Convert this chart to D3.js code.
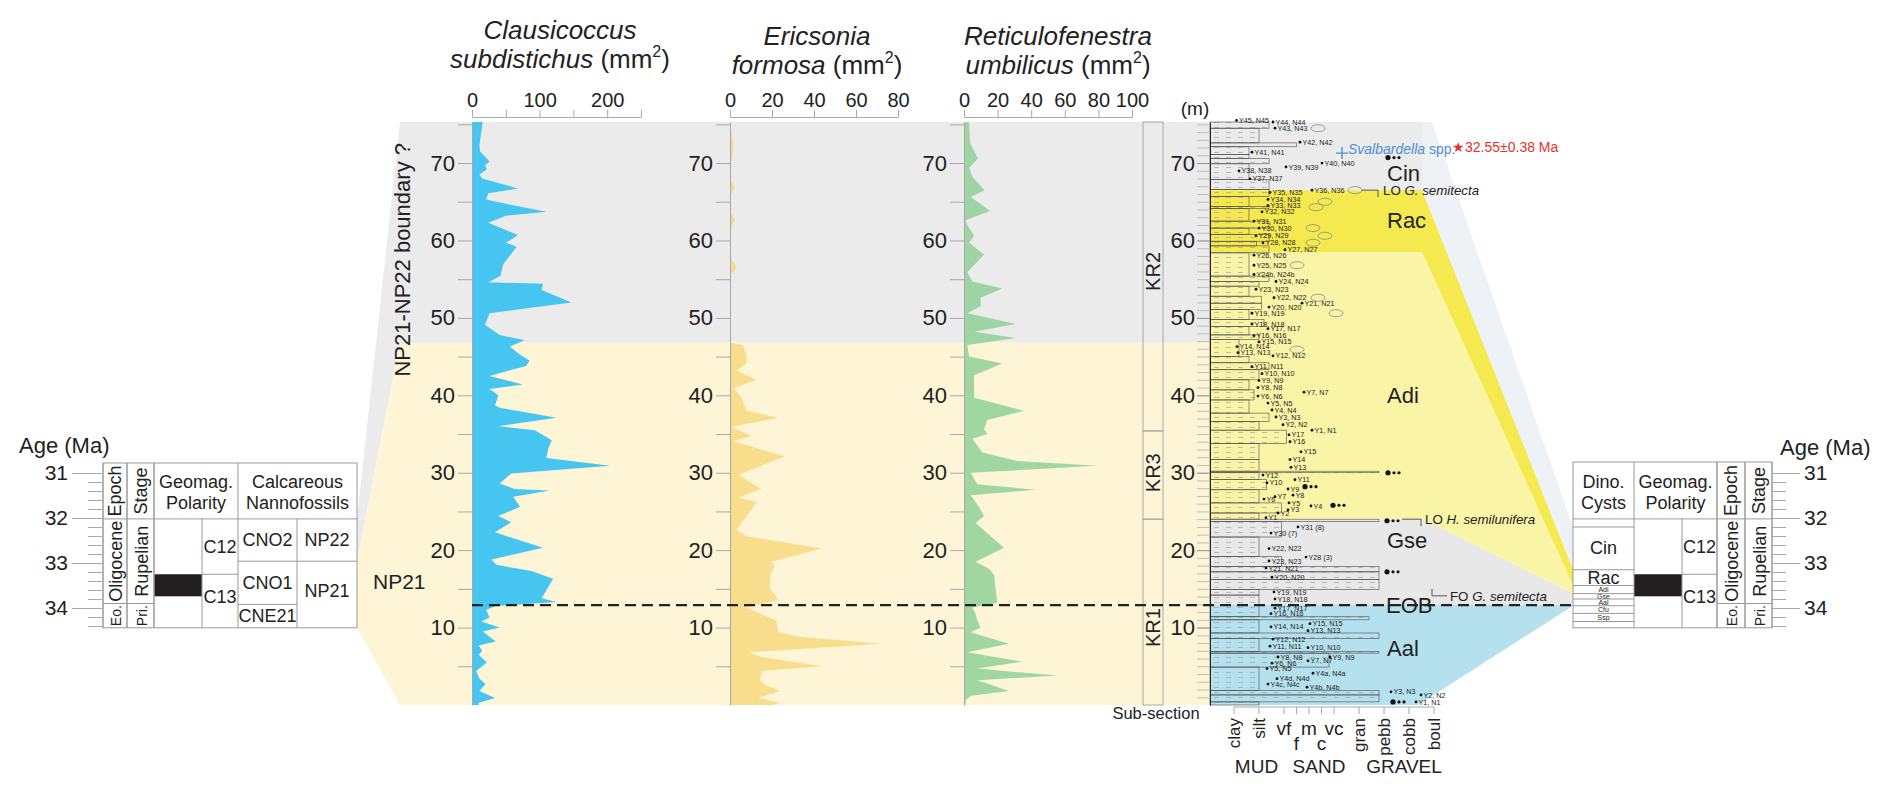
<!DOCTYPE html>
<html>
<head>
<meta charset="utf-8">
<script src="https://cdn.jsdelivr.net/npm/d3@7/dist/d3.min.js"></script>
<style>
  body { margin: 0; background: #fff; }
  svg { display: block; }
</style>
</head>
<body>
<div id="chart"></div>
<script>
// ---- data (depth m, area mm2) ----
const clausicoccus = [[75.3,16],[74.8,15],[72.3,11],[71.5,12],[70.2,26],[69.7,19],[69.2,22],[68.5,11],[68,15],[66.7,68],[66.1,24],[65.3,21],[64.7,51],[63.7,110],[63.2,50],[62.3,24],[60.7,68],[59.7,50],[59.2,66],[56.9,46],[55.4,42],[54.6,24],[54.4,105],[53.6,103],[52,147],[50.6,26],[49.1,19],[47.8,41],[47.1,78],[46.3,56],[45.3,70],[44.5,85],[43.8,80],[42.5,26],[41.4,75],[40.8,26],[40,39],[38.7,34],[38.4,41],[37.1,125],[36,39],[35.5,93],[34.2,118],[33.2,113],[31.9,110],[30.9,204],[29.9,58],[28.6,41],[27.9,63],[27.7,115],[26.9,61],[25.6,71],[24.4,39],[23.6,58],[22.3,34],[20.3,105],[18.8,29],[18.1,36],[17.3,88],[16.3,120],[13.8,103],[13.3,125],[12.8,36],[12.3,21],[11.3,26],[10.8,14],[10,41],[9.5,16],[8.2,35],[7.7,10],[7,15],[6.5,10],[5.5,22],[4.4,6],[3.4,11],[2.7,20],[1.8,11],[0.9,34],[0.3,10],[0,10]];

const ericsonia = [[75.3,0],[74.6,0],[73.5,1.2],[72.1,1.6],[70.5,1],[69.7,0],[67.9,0],[66.8,2.4],[65.8,0],[63.8,0],[62.6,2.4],[61.4,0],[57.9,0],[56.5,3.2],[55.4,0],[46.8,0],[46.5,6.3],[45,7.9],[44.1,7.9],[43.2,3.2],[42,12.7],[40.9,1.6],[39.7,5.6],[38,7.9],[37.1,23],[35.9,0.8],[34.7,10.3],[34.1,1.6],[32.1,26],[29.7,4],[27.9,15],[26.8,4],[26.2,12.7],[22.6,3.2],[21.8,7.9],[20.2,43.7],[18.5,19.8],[17.9,21.4],[16.8,19],[15.1,19],[13.6,23],[12.6,7.9],[12,12.7],[10.9,22],[9.4,23],[8.8,33],[7.9,72],[6.8,8.7],[6.2,15],[5,44],[4.4,15],[3.2,14.3],[2.6,16.7],[1.8,23.8],[0.9,13.5],[0.3,23.8],[0,20]];

const reticulofenestra = [[75.3,3],[72.6,3.6],[70.6,8.3],[69.4,3],[68.2,5],[66.5,12.3],[65.6,4],[63.8,15.5],[62.6,1],[62,2],[60.6,6],[59.7,3],[58.2,11.9],[55.9,2],[54.7,5],[53.8,22.8],[52.6,9.9],[51.5,9.9],[50.6,2],[49.2,30.8],[48.2,6],[47.4,30.8],[46.5,2],[45,3],[44.1,22.8],[42.6,6],[39.7,6],[38,35.7],[36.8,13.9],[35.6,11.9],[35,13.9],[34.4,5],[32.6,10.9],[31.5,31.7],[30.9,79.4],[30,4],[28.5,7.9],[27.8,42.7],[27.1,4],[25.6,8.9],[24.4,11.9],[23.5,6.9],[20.3,23.8],[18.5,6.9],[17.6,14.9],[16.8,17.9],[13.2,19.8],[12.6,5],[11.8,6.9],[10.9,7.9],[10,9.9],[9.4,4],[7.9,26.8],[6.8,2],[5.6,34.7],[4.7,7.9],[3.8,55.6],[3.2,7.9],[1.8,26.8],[1.2,4],[0.6,1],[0,1]];

// nannofossil zones: name, depth top, depth base, age top, age base
const npZones = [['NP22', 75.3, 46.8, 32.02, 32.96], ['NP21', 46.8, 0, 32.96, 34.44]];
// dinocyst zones: name, depth top, depth base, age top, age base, label depth
const dinoZones = [
  ['Cin', 75.3, 66.5, 32.2, 33.15, 68.7],
  ['Rac', 66.5, 58.5, 33.15, 33.5, 62.7],
  ['Adi', 58.5, 24.0, 33.5, 33.68, 40.0],
  ['Gse', 24.0, 12.9, 33.68, 33.8, 21.3],
  ['Aal', 12.9, 0, 33.8, 33.95, 7.4]
];
const eobDepth = 12.9;
const subSections = [['KR2', 75.3, 35.4, 56], ['KR3', 35.4, 24.0, 30], ['KR1', 24.0, 0, 10]];

// grain-size classes on the log scale
const grainClasses = [['clay',0],['silt',1],['vf',2],['f',2.5],['m',3],['c',3.5],['vc',4],['gran',5],['pebb',6],['cobb',7],['boul',8]];
const grainGroups = [['MUD',0.9],['SAND',3.4],['GRAVEL',6.8]];

// beds: top, base, grain
const beds = [[75.3,74.5,1.4],[74.5,72.6,1.0],[72.6,72.1,2.5],[72.1,71.1,0.6],[71.1,70.6,0.6],[70.6,69.9,1.4],[69.9,67.9,0.6],[67.9,66.6,1.4],
  [66.6,65.7,1.4],[65.7,64.4,0.6],[64.4,64.1,1.4],[64.1,62.5,0.6],[62.5,61.6,1.4],[61.6,60.8,0.6],[60.8,59.9,1.4],[59.9,59.3,0.9],[59.3,58.4,1.4],
  [58.4,55.4,0.6],[55.4,54.7,1.4],[54.7,54.1,1.0],[54.1,52.8,0.6],[52.8,51.9,1.1],[51.9,51.1,1.1],[51.1,49.8,0.6],[49.8,48.9,1.2],[48.9,47.8,0.6],[47.8,47.2,1.0],[47.2,45.0,0.2],[45.0,44.2,0.6],[44.2,43.3,1.4],[43.3,42.0,1.0],[42.0,40.7,0.6],
  [40.7,39.4,0.8],[39.4,37.7,0.6],[37.7,36.6,1.4],[36.6,35.5,1.0],[35.5,33.8,2.1],[33.8,31.7,1.0],[31.7,30.2,1.0],[30.2,30.0,5.8],[30.0,29.1,1.0],[29.1,27.8,1.3],[27.8,26.1,1.0],[26.1,24.8,1.9],[24.8,24.0,1.0],
  [24.0,23.7,5.8],[23.7,21.7,1.9],[21.7,19.2,1.0],[19.2,17.9,1.9],[17.9,17.2,5.8],[17.2,16.2,5.8],[16.2,14.9,5.8],[14.9,14.2,1.0],
  [14.2,11.4,1.0],[11.4,11.0,5.4],[11.0,9.3,1.0],[9.3,8.6,5.8],[8.6,6.9,1.0],[6.9,6.7,5.8],[6.7,4.9,3.8],[4.9,1.9,1.0],[1.9,1.3,5.8],[1.3,0.4,5.8],[0.4,0,1.0]];

// samples: label, depth, grain of sampled bed
const samples = [
  ['Y45, N45',75.5,0.1],['Y44, N44',75.3,1.56],['Y43, N43',74.5,1.64],['Y42, N42',72.7,2.64],['Y41, N41',71.4,0.72],['Y40, N40',70.0,3.52],
  ['Y39, N39',69.5,2.08],['Y38, N38',69.0,0.2],['Y37, N37',67.96,0.64],['Y36, N36',66.5,3.12],['Y35, N35',66.2,1.44],['Y34, N34',65.3,1.36],
  ['Y33, N33',64.5,1.36],['Y32, N32',63.7,1.12],['Y31, N31',62.5,0.8],['Y30, N30',61.6,1.0],['Y29, N29',60.6,0.88],['Y28, N28',59.7,1.16],
  ['Y27, N27',58.8,2.04],['Y26, N26',58.1,0.8],['Y25, N25',56.8,0.8],['Y24b, N24b',55.6,0.8],['Y24, N24',54.7,1.68],['Y23, N23',53.7,0.88],
  ['Y22, N22',52.6,1.6],['Y21, N21',51.9,2.72],['Y20, N20',51.4,1.4],['Y19, N19',50.6,0.72],['Y18, N18',49.2,0.72],['Y17, N17',48.6,1.36],
  ['Y16, N16',47.7,0.8],['Y15, N15',46.9,1.0],['Y14, N14',46.3,0.12],['Y13, N13',45.5,0.16],['Y12, N12',45.1,1.56],['Y11, N11',43.7,0.72],
  ['Y10, N10',42.8,1.12],['Y9, N9',41.9,1.0],['Y8, N8',41.0,0.96],['Y7, N7',40.4,2.8],['Y6, N6',39.9,0.96],['Y5, N5',39.0,1.36],
  ['Y4, N4',38.1,1.52],['Y3, N3',37.2,1.68],['Y2, N2',36.2,1.96],['Y1, N1',35.5,3.12],
  ['Y17',34.9,2.2],['Y16',34.0,2.24],['Y15',32.7,2.68],['Y14',31.7,2.24],['Y13',30.7,2.28],['Y12',29.7,1.16],['Y11',29.1,2.44],['Y10',28.7,1.32],
  ['Y9',27.9,2.16],['Y8',27.1,2.36],['Y7',26.9,1.64],['Y6',26.6,1.2],['Y5',26.1,2.2],['Y4',25.7,3.08],['Y3',25.2,2.16],['Y2',24.8,1.76],['Y1',24.2,1.28],
  ['Y31 (8)',23.0,2.56],['Y30 (7)',22.2,1.48],['Y22, N22',20.2,1.4],['Y28 (3)',19.1,2.88],['Y23, N23',18.6,1.4],['Y21, N21',17.7,1.28],['Y20, N20',16.5,1.52],
  ['Y19, N19',14.6,1.6],['Y18, N18',13.7,1.64],['Y17, N17',12.5,1.64],['Y16, N16',11.8,1.48],['Y15, N15',10.5,3.04],['Y14, N14',10.1,1.48],
  ['Y13, N13',9.6,2.96],['Y12, N12',8.5,1.56],['Y11, N11',7.6,1.44],['Y10, N10',7.4,2.96],['Y9, N9',6.2,3.84],['Y8, N8',6.2,1.76],
  ['Y7, N7',5.7,2.96],['Y6, N6',5.4,1.52],['Y5, N5',4.7,1.32],['Y4a, N4a',4.1,3.16],['Y4d, N4d',3.4,1.72],['Y4c, N4c',2.7,1.36],
  ['Y4b, N4b',2.3,2.92],['Y3, N3',1.7,6.28],['Y2, N2',1.3,7.48],['Y1, N1',0.4,7.28]
];
// nodules (depth, grain) and clast horizons (depth, grain)
const nodules = [[74.5,3.36],[66.5,4.84],[64.3,3.28],[65.0,3.64],[61.6,3.16],[60.6,3.64],[59.7,3.16],[56.8,2.52],[52.6,3.36],[50.6,4.08],[45.9,2.52]];
const clasts = [[70.7,6.16],[30.0,6.16],[28.2,2.84],[25.8,3.96],[23.8,6.12],[17.2,6.12],[0.4,6.36]];
// bioevents: prefix, taxon, depth
const events = [['LO ', 'G. semitecta', 66.5], ['LO ', 'H. semilunifera', 24.0], ['FO ', 'G. semitecta', 14.1]];
const svalbardellaDepth = 71.8;
const datedAge = '32.55±0.38 Ma';

// time scale tables (ages in Ma)
const ageTicks = [31, 32, 33, 34];
const epochs = [['Oligocene', 32.02, 33.9], ['Eo.', 33.9, 34.44]];
const stages = [['Rupelian', 32.02, 33.9], ['Pri.', 33.9, 34.44]];
const chrons = [['C12', 32.02, 33.25], ['C13', 33.25, 34.44]];
const normalPolarity = [[33.25, 33.74]];
const cnoZones = [['CNO2', 32.02, 32.96], ['CNO1', 32.96, 33.92], ['CNE21', 33.92, 34.44]];
const npTable = [['NP22', 32.02, 32.96], ['NP21', 32.96, 34.44]];
const dinoTable = [['', 32.02, 32.2], ['Cin', 32.2, 33.15], ['Rac', 33.15, 33.5], ['Adi', 33.5, 33.68], ['Gse', 33.68, 33.8],
  ['Aal', 33.8, 33.95], ['Cfu', 33.95, 34.12], ['Ssp', 34.12, 34.3], ['', 34.3, 34.38]];

// ---- layout ----
const W = 1892, H = 792;
const FONT = "'Liberation Sans', Arial, Helvetica, sans-serif";
const INK = '#222';
const AX = '#a8a8a8';
const zoneColor = { NP22: '#ebebeb', NP21: '#fdf5d6', Cin: '#ebebeb', Rac: '#f4e94f', Adi: '#faf4a7', Gse: '#e8e8e8', Aal: '#b4e1ed' };

const y = d3.scaleLinear().domain([0, 75.3]).range([705, 122]);
const age = d3.scaleLinear().domain([31, 34]).range([473, 608]);
const grain = d3.scaleLinear().domain([0, 8]).range([1234, 1434]);
const colLeft = 1210;
const tableL = { x0: 103, ep: 127, st: 154, pm: 202, gm: 238, cn: 297, x1: 357, top: 463, bot: age(34.44) };
const tableR = { x0: 1573, gm: 1634, pm: 1682, ep: 1717, st: 1745, x1: 1772, top: 462, bot: age(34.44) };
const headBot = age(32.02);

const svg = d3.select('#chart').append('svg')
  .attr('width', W).attr('height', H)
  .attr('font-family', FONT).attr('fill', INK);

const defs = svg.append('defs');
const mud = defs.append('pattern').attr('id', 'mud')
  .attr('patternUnits', 'userSpaceOnUse').attr('width', 12).attr('height', 5);
mud.append('line').attr('x1', 2).attr('x2', 7).attr('y1', 2.5).attr('y2', 2.5)
  .attr('stroke', '#999').attr('stroke-width', 0.6);

// left wedges linking nannofossil zones to the time scale
const gBack = svg.append('g');
npZones.forEach(([name, dTop, dBase, aTop, aBase]) => {
  gBack.append('polygon')
    .attr('points', [[tableL.x1, age(aTop)], [400, y(dTop)], [400, y(dBase)], [tableL.x1, age(aBase)]].join(' '))
    .attr('fill', zoneColor[name]);
  gBack.append('rect').attr('x', 400).attr('width', colLeft - 400)
    .attr('y', y(dTop)).attr('height', y(dBase) - y(dTop))
    .attr('fill', zoneColor[name]);
});

// right wedges linking dinocyst zones to the time scale
const cornerTop = { Cin: 1432, Rac: 1422, Adi: 1422, Gse: 1423, Aal: 1573 };
const cornerBase = { Cin: 1422, Rac: 1422, Adi: 1423, Gse: 1573, Aal: 1418 };
dinoZones.forEach(([name, dTop, dBase, aTop, aBase]) => {
  const pts = [[colLeft, y(dTop)], [cornerTop[name], y(dTop)], [tableR.x0, age(aTop)],
    [tableR.x0, age(aBase)], [cornerBase[name], y(dBase)], [colLeft, y(dBase)]];
  gBack.append('polygon').attr('points', pts.join(' '))
    .attr('fill', name === 'Cin' ? '#eef1f5' : zoneColor[name]);
  if (name === 'Cin') {
    gBack.append('rect').attr('x', colLeft).attr('width', 1422 - colLeft)
      .attr('y', y(dTop)).attr('height', y(dBase) - y(dTop)).attr('fill', zoneColor.Cin);
  }
});

gBack.append('text')
  .attr('transform', `translate(410,${y(57.5)}) rotate(-90)`)
  .attr('text-anchor', 'middle').attr('font-size', 22)
  .text('NP21-NP22 boundary ?');
gBack.append('text').attr('x', 373).attr('y', 589).attr('font-size', 21).text('NP21');

// ---- abundance panels ----
const panels = [
  { data: clausicoccus, x: d3.scaleLinear().domain([0, 250]).range([472, 641]), ticks: [0, 50, 100, 150, 200, 250],
    lab: d => d % 100 === 0, color: '#45c5ef', op: 1, t: ['Clausicoccus', 'subdistichus'], tx: 560, ty: 39 },
  { data: ericsonia, x: d3.scaleLinear().domain([0, 80]).range([730, 898]), ticks: [0, 20, 40, 60, 80],
    lab: () => true, color: '#f6d77a', op: 0.8, t: ['Ericsonia', 'formosa'], tx: 817, ty: 45 },
  { data: reticulofenestra, x: d3.scaleLinear().domain([0, 100]).range([964, 1132]), ticks: [0, 20, 40, 60, 80, 100],
    lab: () => true, color: '#8fd096', op: 0.85, t: ['Reticulofenestra', 'umbilicus'], tx: 1058, ty: 45 }
];

function styleAxis(g, size) {
  g.attr('font-family', FONT).attr('font-size', size);
  g.selectAll('path.domain').attr('stroke', AX);
  g.selectAll('.tick line').attr('stroke', AX);
  g.selectAll('.tick text').attr('fill', INK);
}

panels.forEach(p => {
  const area = d3.area().y(d => y(d[0])).x0(p.x(0)).x1(d => p.x(d[1]));
  svg.append('path').datum(p.data).attr('d', area)
    .attr('fill', p.color).attr('fill-opacity', p.op);

  const top = svg.append('g').attr('transform', 'translate(0,117)')
    .call(d3.axisTop(p.x).tickValues(p.ticks).tickSize(7).tickSizeOuter(0).tickPadding(3)
      .tickFormat(d => p.lab(d) ? d : ''));
  styleAxis(top, 20);

  const left = svg.append('g').attr('transform', `translate(${p.x(0)},0)`)
    .call(d3.axisLeft(y).tickValues(d3.range(5, 76, 5)).tickSize(14).tickSizeOuter(0).tickPadding(3)
      .tickFormat(d => d % 10 === 0 ? d : ''));
  styleAxis(left, 22);

  svg.append('text').attr('x', p.tx).attr('y', p.ty).attr('text-anchor', 'middle')
    .attr('font-size', 26).attr('font-style', 'italic').text(p.t[0]);
  const t2 = svg.append('text').attr('x', p.tx).attr('y', p.ty + 29).attr('text-anchor', 'middle').attr('font-size', 26);
  t2.append('tspan').attr('font-style', 'italic').text(p.t[1] + ' ');
  t2.append('tspan').text('(mm');
  t2.append('tspan').attr('font-size', 16).attr('dy', -11).text('2');
  t2.append('tspan').attr('dy', 11).text(')');
});

// ---- sub-section column ----
const gSub = svg.append('g');
subSections.forEach(([name, top, base, at]) => {
  gSub.append('rect').attr('x', 1143).attr('width', 20)
    .attr('y', y(top)).attr('height', y(base) - y(top))
    .attr('fill', 'none').attr('stroke', AX);
  gSub.append('text').attr('transform', `translate(1160,${y(at)}) rotate(-90)`)
    .attr('text-anchor', 'middle').attr('font-size', 20).text(name);
});
gSub.append('text').attr('x', 1156).attr('y', 719).attr('text-anchor', 'middle').attr('font-size', 16.5).text('Sub-section');

// ---- lithological log ----
const gLog = svg.append('g');
gLog.selectAll('rect.bed').data(beds).join('rect').attr('class', 'bed')
  .attr('x', colLeft).attr('y', d => y(d[0]))
  .attr('width', d => grain(d[2]) - colLeft).attr('height', d => y(d[1]) - y(d[0]))
  .attr('fill', 'url(#mud)').attr('stroke', '#4a4a4a').attr('stroke-width', 0.6);

const minor = gLog.append('g').attr('transform', `translate(${colLeft},0)`)
  .call(d3.axisLeft(y).tickValues(d3.range(1, 76, 1)).tickSize(13).tickSizeOuter(0).tickFormat(''));
minor.selectAll('.tick line').attr('stroke', '#bdbdbd');
minor.select('path.domain').remove();
const major = gLog.append('g').attr('transform', `translate(${colLeft},0)`)
  .call(d3.axisLeft(y).tickValues(d3.range(10, 71, 10)).tickSize(13).tickSizeOuter(0).tickPadding(2));
styleAxis(major, 22);
major.selectAll('.tick line').attr('stroke', '#999');
major.select('path.domain').attr('stroke', '#222');
gLog.append('text').attr('x', 1195).attr('y', 115).attr('text-anchor', 'middle').attr('font-size', 19).text('(m)');

// grain-size axis
const gx = gLog.append('g').attr('transform', 'translate(0,707)');
gx.append('line').attr('x1', grain(0)).attr('x2', grain(8)).attr('stroke', AX);
grainClasses.forEach(([lab, v]) => {
  gx.append('line').attr('x1', grain(v)).attr('x2', grain(v)).attr('y1', 0).attr('y2', 7).attr('stroke', AX);
  if (v >= 2 && v <= 4) {
    gx.append('text').attr('x', grain(v)).attr('y', v % 1 === 0 ? 28 : 43)
      .attr('text-anchor', 'middle').attr('font-size', 19).text(lab);
  } else {
    gx.append('text').attr('transform', `translate(${grain(v) + 6},11) rotate(-90)`)
      .attr('text-anchor', 'end').attr('font-size', 17).text(lab);
  }
});
grainGroups.forEach(([lab, v]) => {
  gx.append('text').attr('x', grain(v)).attr('y', 66).attr('text-anchor', 'middle').attr('font-size', 19).text(lab);
});

// samples, nodules, clasts
const gS = svg.append('g');
gS.selectAll('circle.s').data(samples).join('circle').attr('class', 's')
  .attr('cx', d => grain(d[2])).attr('cy', d => y(d[1])).attr('r', 1.4).attr('fill', '#111');
gS.selectAll('text.s').data(samples).join('text').attr('class', 's')
  .attr('x', d => grain(d[2]) + 2.5).attr('y', d => y(d[1]) + 2.6)
  .attr('font-size', 7.2).attr('fill', '#222').text(d => d[0]);
gS.selectAll('ellipse').data(nodules).join('ellipse')
  .attr('cx', d => grain(d[1])).attr('cy', d => y(d[0])).attr('rx', 7).attr('ry', 3.5)
  .attr('fill', 'none').attr('stroke', '#8a8a8a').attr('stroke-width', 0.8);
clasts.forEach(([d, v]) => {
  [[0, 2.6], [6, 1.6], [11, 1.6]].forEach(([dx, r]) => {
    gS.append('circle').attr('cx', grain(v) + dx).attr('cy', y(d)).attr('r', r).attr('fill', '#111');
  });
});

// bioevents
const evX = [[1362, 1378, 1383], [1402, 1421, 1425], [1432, 1447, 1450]];
events.forEach(([pre, taxon, d], i) => {
  const [x0, x1, xt] = evX[i], yy = y(d);
  const path = pre.startsWith('LO') ? `M${x0},${yy}H${x1}V${yy + 7}` : `M${x0},${yy - 7}V${yy}H${x1}`;
  gS.append('path').attr('d', path).attr('fill', 'none').attr('stroke', '#555').attr('stroke-width', 1);
  const t = gS.append('text').attr('x', xt).attr('y', yy + 5).attr('font-size', 13.3);
  t.append('tspan').text(pre);
  t.append('tspan').attr('font-style', 'italic').text(taxon);
});
const ySv = y(svalbardellaDepth);
gS.append('path').attr('d', `M1336,${ySv + 4}H1348M1342,${ySv - 2}V${ySv + 10}`).attr('stroke', '#4d8fd6').attr('stroke-width', 1.4);
const sv = gS.append('text').attr('x', 1348).attr('y', ySv + 5).attr('font-size', 14).attr('fill', '#4d8fd6');
sv.append('tspan').attr('font-style', 'italic').text('Svalbardella');
sv.append('tspan').text(' spp.');
gS.append('text').attr('x', 1452).attr('y', ySv + 3).attr('font-size', 14).attr('fill', '#e8312a').text('★' + datedAge);

// EOB dashed line
svg.append('line').attr('x1', 472).attr('x2', tableR.ep).attr('y1', y(eobDepth)).attr('y2', y(eobDepth))
  .attr('stroke', '#222').attr('stroke-width', 2.4).attr('stroke-dasharray', '11,6');

// zone labels
dinoZones.forEach(([name, , , , , at]) => {
  svg.append('text').attr('x', 1387).attr('y', y(at) + 8).attr('font-size', 22).text(name);
});
svg.append('text').attr('x', 1386).attr('y', y(eobDepth) + 8).attr('font-size', 22).text('EOB');

// ---- time-scale tables ----
const gT = svg.append('g');
function hl(x1, x2, yy) { gT.append('line').attr('x1', x1).attr('x2', x2).attr('y1', yy).attr('y2', yy).attr('stroke', '#999'); }
function vl(xx, y1, y2) { gT.append('line').attr('x1', xx).attr('x2', xx).attr('y1', y1).attr('y2', y2).attr('stroke', '#999'); }
function tx(xx, yy, s, size, rot) {
  return gT.append('text').attr('transform', `translate(${xx},${yy})` + (rot ? ' rotate(-90)' : ''))
    .attr('text-anchor', 'middle').attr('dominant-baseline', 'central').attr('font-size', size).text(s);
}
const mid = (a, b) => (age(a) + age(b)) / 2;

// shared parts: frame, geomagnetic polarity, epoch and stage columns
function timeTable(T, c) {
  gT.append('rect').attr('x', T.x0).attr('y', T.top).attr('width', T.x1 - T.x0).attr('height', T.bot - T.top)
    .attr('fill', '#fff').attr('stroke', '#999');
  hl(T.x0, T.x1, headBot);
  normalPolarity.forEach(([a, b]) => gT.append('rect').attr('x', c.g0).attr('width', T.pm - c.g0)
    .attr('y', age(a)).attr('height', age(b) - age(a)).attr('fill', '#231f20'));
  vl(c.g0, T.top, T.bot); vl(c.g1, T.top, T.bot);
  vl(T.pm, headBot, T.bot);
  chrons.forEach(([n, a, b], i) => {
    if (i > 0) hl(T.pm, c.g1, age(a));
    tx((T.pm + c.g1) / 2, mid(a, b) + (i ? -4 : 0), n, 18);
  });
  tx((c.g0 + c.g1) / 2, 482, 'Geomag.', 18);
  tx((c.g0 + c.g1) / 2, 503, 'Polarity', 18);
  [[epochs, c.ep0, c.ep1, 'Epoch'], [stages, c.st0, c.st1, 'Stage']].forEach(([rows, a0, a1, head]) => {
    vl(a0, T.top, T.bot); vl(a1, T.top, T.bot);
    tx((a0 + a1) / 2, (T.top + headBot) / 2, head, 18, true);
    rows.forEach(([n, a, b], i) => {
      if (i > 0) hl(a0, a1, age(a));
      tx((a0 + a1) / 2 + 1, mid(a, b), n, i ? 14 : 18, true);
    });
  });
}

// left table
timeTable(tableL, { g0: tableL.st, g1: tableL.gm, ep0: tableL.x0, ep1: tableL.ep, st0: tableL.ep, st1: tableL.st });
vl(tableL.cn, headBot, tableL.bot);
tx((tableL.gm + tableL.x1) / 2, 482, 'Calcareous', 18);
tx((tableL.gm + tableL.x1) / 2, 503, 'Nannofossils', 18);
cnoZones.forEach(([n, a, b], i) => { if (i > 0) hl(tableL.gm, tableL.cn, age(a)); tx((tableL.gm + tableL.cn) / 2, mid(a, b), n, 18); });
npTable.forEach(([n, a, b], i) => { if (i > 0) hl(tableL.cn, tableL.x1, age(a)); tx((tableL.cn + tableL.x1) / 2, mid(a, b) - (i ? 4 : 0), n, 18); });

// right table
timeTable(tableR, { g0: tableR.gm, g1: tableR.ep, ep0: tableR.ep, ep1: tableR.st, st0: tableR.st, st1: tableR.x1 });
tx((tableR.x0 + tableR.gm) / 2, 482, 'Dino.', 18);
tx((tableR.x0 + tableR.gm) / 2, 503, 'Cysts', 18);
dinoTable.forEach(([n, a, b], i) => {
  if (i > 0) hl(tableR.x0, tableR.gm, age(a));
  if (n) tx((tableR.x0 + tableR.gm) / 2, mid(a, b), n, (b - a) > 0.3 ? 18 : 7);
});

// age axes
function ageAxis(side, xx) {
  const mk = () => (side === 'left' ? d3.axisLeft(age) : d3.axisRight(age));
  const gMinor = svg.append('g').attr('transform', `translate(${xx},0)`)
    .call(mk().tickValues(d3.range(31, 34.41, 0.2)).tickSize(14).tickSizeOuter(0).tickFormat(''));
  gMinor.selectAll('.tick line').attr('stroke', AX);
  gMinor.select('path.domain').remove();
  const gMajor = svg.append('g').attr('transform', `translate(${xx},0)`)
    .call(mk().tickValues(ageTicks).tickSize(side === 'left' ? 30 : 28).tickSizeOuter(0).tickPadding(4)
      .tickFormat(d3.format('d')));
  styleAxis(gMajor, 21);
  gMajor.select('path.domain').remove();
}
ageAxis('left', tableL.x0 - 1);
ageAxis('right', tableR.x1);
svg.append('text').attr('x', 19).attr('y', 453).attr('font-size', 22).text('Age (Ma)');
svg.append('text').attr('x', 1780).attr('y', 455).attr('font-size', 22).text('Age (Ma)');
</script>
</body>
</html>
